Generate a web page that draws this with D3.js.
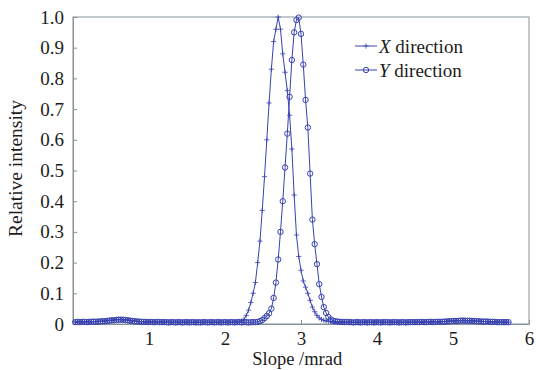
<!DOCTYPE html>
<meta charset="utf-8">
<style>
body { margin: 0; background: #fff; }
svg, svg text { font-family: "Liberation Serif", "Times New Roman", Times, serif !important; }
text { fill: #1c1c1c; }
.axis path, .axis line, .frame { stroke: #88929b; stroke-width: 1; fill: none; }
.axis text { font-size: 19px; }
</style>
<body>
<script src="https://cdn.jsdelivr.net/npm/d3@7"></script>
<script>

// sample positions (mrad)
var slope = [
  0.03,0.06,0.09,0.12,0.15,0.18,0.21,0.24,0.27,0.30,
  0.33,0.36,0.39,0.42,0.45,0.48,0.51,0.54,0.57,0.60,
  0.63,0.66,0.69,0.72,0.75,0.78,0.81,0.84,0.87,0.90,
  0.93,0.96,0.99,1.02,1.05,1.08,1.11,1.14,1.17,1.20,
  1.23,1.26,1.29,1.32,1.35,1.38,1.41,1.44,1.47,1.50,
  1.53,1.56,1.59,1.62,1.65,1.68,1.71,1.74,1.77,1.80,
  1.83,1.86,1.89,1.92,1.95,1.98,2.01,2.04,2.07,2.10,
  2.13,2.16,2.19,2.22,2.25,2.28,2.31,2.34,2.37,2.40,
  2.43,2.46,2.49,2.52,2.55,2.58,2.61,2.64,2.67,2.70,
  2.73,2.76,2.79,2.82,2.85,2.88,2.91,2.94,2.97,3.00,
  3.03,3.06,3.09,3.12,3.15,3.18,3.21,3.24,3.27,3.30,
  3.33,3.36,3.39,3.42,3.45,3.48,3.51,3.54,3.57,3.60,
  3.63,3.66,3.69,3.72,3.75,3.78,3.81,3.84,3.87,3.90,
  3.93,3.96,3.99,4.02,4.05,4.08,4.11,4.14,4.17,4.20,
  4.23,4.26,4.29,4.32,4.35,4.38,4.41,4.44,4.47,4.50,
  4.53,4.56,4.59,4.62,4.65,4.68,4.71,4.74,4.77,4.80,
  4.83,4.86,4.89,4.92,4.95,4.98,5.01,5.04,5.07,5.10,
  5.13,5.16,5.19,5.22,5.25,5.28,5.31,5.34,5.37,5.40,
  5.43,5.46,5.49,5.52,5.55,5.58,5.61,5.64,5.67,5.70,
  5.73
];

// relative intensity, X direction
var xDirection = [
  0.007,0.006,0.007,0.007,0.006,0.007,0.008,0.007,0.008,0.008,
  0.009,0.009,0.010,0.011,0.011,0.012,0.013,0.013,0.014,0.015,
  0.015,0.014,0.014,0.013,0.012,0.011,0.010,0.009,0.008,0.008,
  0.007,0.007,0.007,0.006,0.007,0.006,0.006,0.007,0.006,0.006,
  0.006,0.006,0.005,0.006,0.006,0.006,0.005,0.006,0.006,0.005,
  0.006,0.006,0.005,0.006,0.006,0.005,0.006,0.006,0.006,0.005,
  0.006,0.006,0.006,0.005,0.006,0.006,0.005,0.006,0.006,0.006,
  0.007,0.007,0.008,0.010,0.015,0.028,0.045,0.070,0.100,0.135,
  0.200,0.270,0.370,0.480,0.600,0.720,0.830,0.920,0.960,1.000,
  0.960,0.880,0.820,0.760,0.680,0.570,0.420,0.290,0.220,0.175,
  0.140,0.120,0.100,0.077,0.055,0.040,0.028,0.020,0.015,0.012,
  0.010,0.009,0.008,0.007,0.007,0.006,0.006,0.006,0.006,0.005,
  0.006,0.006,0.005,0.006,0.006,0.005,0.006,0.006,0.006,0.005,
  0.006,0.006,0.006,0.005,0.006,0.006,0.006,0.005,0.006,0.006,
  0.006,0.005,0.006,0.006,0.006,0.005,0.006,0.006,0.006,0.006,
  0.006,0.007,0.006,0.006,0.007,0.007,0.006,0.007,0.007,0.007,
  0.007,0.008,0.008,0.009,0.009,0.010,0.010,0.011,0.011,0.011,
  0.012,0.011,0.011,0.010,0.011,0.010,0.009,0.009,0.009,0.008,
  0.008,0.007,0.007,0.007,0.006,0.007,0.006,0.006,0.006,0.006,
  0.006
];

// relative intensity, Y direction
var yDirection = [
  0.006,0.007,0.006,0.007,0.007,0.006,0.007,0.007,0.008,0.007,
  0.008,0.008,0.009,0.009,0.010,0.011,0.012,0.012,0.013,0.014,
  0.014,0.014,0.013,0.012,0.011,0.010,0.009,0.008,0.008,0.007,
  0.007,0.007,0.006,0.007,0.006,0.006,0.007,0.006,0.006,0.006,
  0.006,0.005,0.006,0.006,0.005,0.006,0.006,0.005,0.006,0.006,
  0.005,0.006,0.006,0.005,0.006,0.005,0.006,0.006,0.005,0.006,
  0.006,0.005,0.006,0.006,0.005,0.006,0.006,0.005,0.006,0.006,
  0.005,0.006,0.006,0.005,0.006,0.006,0.005,0.006,0.006,0.006,
  0.007,0.009,0.013,0.019,0.026,0.035,0.050,0.085,0.135,0.210,
  0.300,0.400,0.510,0.620,0.740,0.860,0.950,0.990,0.998,0.945,
  0.845,0.730,0.640,0.490,0.340,0.260,0.195,0.130,0.088,0.055,
  0.036,0.023,0.015,0.011,0.009,0.008,0.007,0.007,0.006,0.007,
  0.006,0.006,0.005,0.006,0.006,0.005,0.006,0.006,0.005,0.006,
  0.006,0.005,0.006,0.006,0.005,0.006,0.006,0.006,0.005,0.006,
  0.006,0.006,0.005,0.006,0.006,0.005,0.006,0.006,0.006,0.006,
  0.006,0.006,0.007,0.006,0.006,0.007,0.007,0.006,0.007,0.007,
  0.007,0.007,0.008,0.008,0.009,0.009,0.010,0.010,0.010,0.011,
  0.011,0.011,0.010,0.011,0.010,0.010,0.009,0.009,0.008,0.008,
  0.008,0.008,0.007,0.007,0.007,0.006,0.006,0.006,0.006,0.006,
  0.006
];

var xTicks = [1, 2, 3, 4, 5, 6];
var yTicks = [0, 0.1, 0.2, 0.3, 0.4, 0.5, 0.6, 0.7, 0.8, 0.9, 1.0];
var yTickLabels = ["0", "0.1", "0.2", "0.3", "0.4", "0.5", "0.6", "0.7", "0.8", "0.9", "1.0"];
var seriesLetters = ["X", "Y"];
var seriesNames = [" direction", " direction"];

var colour = "#3843b0";

var margin = {top: 17, right: 7, bottom: 46, left: 73},
    width = 536 - margin.left - margin.right,
    height = 370 - margin.top - margin.bottom;

var x = d3.scaleLinear().domain([0, 6]).range([0, width]);
var y = d3.scaleLinear().domain([0, 1]).range([height, 0]);

var svg = d3.select("body").append("svg")
    .attr("width", 536)
    .attr("height", 370)
  .append("g")
    .attr("transform", "translate(" + margin.left + "," + margin.top + ")");

// box round the plot
svg.append("rect")
    .attr("class", "frame")
    .attr("width", width)
    .attr("height", height);

svg.append("g")
    .attr("class", "x axis")
    .attr("transform", "translate(0," + height + ")")
    .call(d3.axisBottom(x).tickValues(xTicks).tickFormat(d3.format("d"))
      .tickSizeInner(-4).tickSizeOuter(0).tickPadding(8));

svg.append("g")
    .attr("class", "y axis")
    .call(d3.axisLeft(y).tickValues(yTicks).tickFormat(function(d, i) { return yTickLabels[i]; })
      .tickSizeInner(-4).tickSizeOuter(0).tickPadding(9));

svg.selectAll(".axis").attr("font-family", null);
svg.selectAll(".axis text").attr("fill", "#1c1c1c");

svg.append("text")
    .attr("transform", "rotate(-90)")
    .attr("x", -height / 2 + 2)
    .attr("y", -51)
    .style("text-anchor", "middle")
    .style("font-size", "19.5px")
    .text("Relative intensity");

svg.append("text")
    .attr("x", x(2.95))
    .attr("y", height + 41)
    .style("text-anchor", "middle")
    .style("font-size", "18.5px")
    .text("Slope /mrad");

var line = d3.line()
    .x(function(d) { return x(d[0]); })
    .y(function(d) { return y(d[1]); });

var dataX = slope.map(function(s, i) { return [s, xDirection[i]]; });
var dataY = slope.map(function(s, i) { return [s, yDirection[i]]; });

var cross = "M-2.6,0H2.6M0,-2.6V2.6";

// Y direction: circles
svg.append("path").datum(dataY)
    .attr("d", line)
    .attr("fill", "none").attr("stroke", colour).attr("stroke-width", 1);
svg.selectAll(".ydot").data(dataY).enter().append("circle")
    .attr("class", "ydot")
    .attr("cx", function(d) { return x(d[0]); })
    .attr("cy", function(d) { return y(d[1]); })
    .attr("r", 2.7)
    .attr("fill", "none").attr("stroke", colour).attr("stroke-width", 1);

// X direction: crosses
svg.append("path").datum(dataX)
    .attr("d", line)
    .attr("fill", "none").attr("stroke", colour).attr("stroke-width", 1);
svg.selectAll(".xdot").data(dataX).enter().append("path")
    .attr("class", "xdot")
    .attr("transform", function(d) { return "translate(" + x(d[0]) + "," + y(d[1]) + ")"; })
    .attr("d", cross)
    .attr("fill", "none").attr("stroke", colour).attr("stroke-width", 0.8);

// legend
var legend = svg.selectAll(".legend").data(seriesLetters).enter().append("g")
    .attr("class", "legend")
    .attr("transform", function(d, i) { return "translate(" + (355 - margin.left) + "," + (46 - margin.top + i * 24) + ")"; });

legend.append("line")
    .attr("x1", 0).attr("x2", 22)
    .attr("stroke", colour).attr("stroke-width", 1);

legend.filter(function(d, i) { return i === 0; }).append("path")
    .attr("transform", "translate(11,0)")
    .attr("d", cross)
    .attr("fill", "none").attr("stroke", colour).attr("stroke-width", 0.8);

legend.filter(function(d, i) { return i === 1; }).append("circle")
    .attr("cx", 11).attr("r", 2.7)
    .attr("fill", "none").attr("stroke", colour).attr("stroke-width", 1);

var lt = legend.append("text")
    .attr("x", 24)
    .attr("dy", "0.35em")
    .style("font-size", "19px");
lt.append("tspan").style("font-style", "italic").text(function(d) { return d; });
lt.append("tspan").text(function(d, i) { return seriesNames[i]; });

</script>
</body>
